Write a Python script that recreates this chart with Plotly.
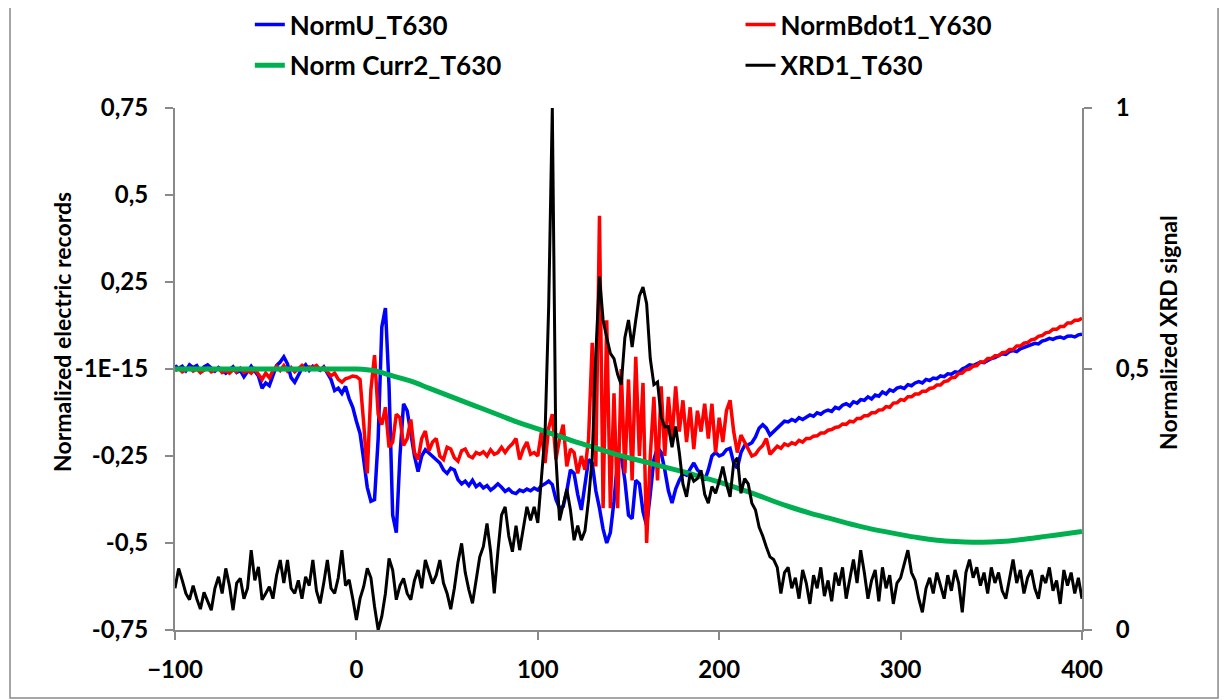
import plotly.graph_objects as go

# time axis (sample positions, step 2)
t = list(range(-100, 401, 2))

norm_u = [
    0.010, 0.002, 0.008, -0.005, 0.012, 0.004, 0.010, -0.008, 0.006, 0.012,
    0.003, -0.006, 0.004, -0.004, -0.012, -0.002, 0.006, -0.010, -0.004, -0.022,
    -0.008, 0.008, -0.006, -0.020, -0.055, -0.040, -0.048, -0.020, 0.010, 0.020,
    0.035, 0.015, -0.025, -0.038, -0.015, 0.002, 0.012, -0.004, 0.008, 0.002,
    -0.004, 0.006, -0.010, -0.030, -0.062, -0.055, -0.070, -0.050, -0.085, -0.110,
    -0.150, -0.185, -0.260, -0.340, -0.380, -0.375, -0.200, 0.120, 0.175, -0.050,
    -0.420, -0.470, -0.250, -0.100, -0.120, -0.180, -0.250, -0.295, -0.250, -0.232,
    -0.242, -0.250, -0.262, -0.270, -0.290, -0.300, -0.285, -0.290, -0.318, -0.330,
    -0.322, -0.335, -0.320, -0.338, -0.330, -0.342, -0.335, -0.348, -0.340, -0.330,
    -0.340, -0.352, -0.345, -0.355, -0.358, -0.348, -0.352, -0.345, -0.350, -0.342,
    -0.348, -0.335, -0.330, -0.322, -0.332, -0.375, -0.400, -0.395, -0.350, -0.290,
    -0.300, -0.360, -0.405, -0.330, -0.260, -0.270, -0.350, -0.400, -0.460, -0.500,
    -0.470, -0.380, -0.260, -0.250, -0.320, -0.420, -0.430, -0.320, -0.330, -0.410,
    -0.450, -0.360, -0.260, -0.225, -0.240, -0.290, -0.350, -0.385, -0.345, -0.320,
    -0.300, -0.305, -0.285, -0.270, -0.290, -0.300, -0.320, -0.290, -0.250, -0.240,
    -0.250, -0.245, -0.232, -0.228, -0.270, -0.285, -0.240, -0.220, -0.218, -0.212,
    -0.195, -0.170, -0.160, -0.170, -0.190, -0.180, -0.168, -0.160, -0.150, -0.152,
    -0.145, -0.150, -0.140, -0.145, -0.138, -0.132, -0.136, -0.126, -0.130, -0.122,
    -0.118, -0.122, -0.110, -0.114, -0.104, -0.100, -0.106, -0.094, -0.098, -0.088,
    -0.090, -0.080, -0.086, -0.075, -0.078, -0.066, -0.072, -0.060, -0.064, -0.055,
    -0.052, -0.056, -0.045, -0.048, -0.040, -0.036, -0.040, -0.030, -0.033, -0.026,
    -0.028, -0.020, -0.022, -0.014, -0.015, -0.008, -0.010, 0.000, 0.005, 0.012,
    0.010, 0.016, 0.020, 0.018, 0.025, 0.030, 0.033, 0.040, 0.044, 0.042,
    0.050, 0.053, 0.050, 0.058, 0.062, 0.065, 0.070, 0.074, 0.072, 0.080,
    0.083, 0.088, 0.085, 0.090, 0.092, 0.088, 0.094, 0.095, 0.092, 0.098,
    0.100,
]

norm_bdot = [
    -0.005, 0.002, -0.008, -0.002, 0.004, -0.006, 0.000, -0.010, -0.003, 0.003,
    -0.008, -0.002, 0.002, -0.010, -0.004, -0.012, -0.002, -0.008, 0.002, -0.010,
    -0.004, -0.012, 0.000, -0.015, -0.030, -0.012, -0.025, -0.005, 0.008, -0.004,
    0.010, -0.006, 0.004, -0.008, 0.002, 0.010, -0.002, 0.006, 0.004, 0.010,
    -0.002, 0.004, -0.008, -0.020, -0.012, -0.030, -0.038, -0.028, -0.025, -0.020,
    -0.022, -0.030, -0.155, -0.300, -0.060, 0.040, -0.130, -0.160, -0.110, -0.225,
    -0.210, -0.130, -0.140, -0.220, -0.200, -0.145, -0.240, -0.260, -0.200, -0.178,
    -0.235, -0.210, -0.200, -0.250, -0.260, -0.225, -0.230, -0.255, -0.265, -0.235,
    -0.230, -0.250, -0.255, -0.240, -0.245, -0.238, -0.250, -0.232, -0.245, -0.240,
    -0.225, -0.240, -0.225, -0.215, -0.200, -0.260, -0.230, -0.210, -0.245, -0.240,
    -0.250, -0.180, -0.270, -0.170, -0.130, -0.260, -0.200, -0.160, -0.280, -0.230,
    -0.240, -0.300, -0.250, -0.290, -0.200, 0.075, -0.280, 0.440, -0.400, 0.140,
    -0.400, -0.070, -0.400, 0.000, -0.300, -0.030, -0.320, 0.035, -0.250, -0.040,
    -0.500, -0.250, -0.080, -0.320, -0.050, -0.250, -0.080, -0.200, -0.050, -0.180,
    -0.090, -0.210, -0.110, -0.230, -0.120, -0.180, -0.100, -0.200, -0.100, -0.240,
    -0.140, -0.210, -0.120, -0.090, -0.180, -0.240, -0.190, -0.210, -0.230, -0.250,
    -0.245, -0.230, -0.220, -0.200, -0.245, -0.235, -0.222, -0.228, -0.215, -0.220,
    -0.212, -0.216, -0.205, -0.210, -0.200, -0.200, -0.193, -0.192, -0.184, -0.184,
    -0.176, -0.174, -0.168, -0.166, -0.158, -0.159, -0.150, -0.152, -0.142, -0.142,
    -0.134, -0.134, -0.126, -0.126, -0.118, -0.117, -0.108, -0.110, -0.098, -0.097,
    -0.088, -0.090, -0.080, -0.080, -0.072, -0.072, -0.064, -0.064, -0.056, -0.054,
    -0.046, -0.046, -0.036, -0.034, -0.025, -0.024, -0.013, -0.012, -0.002, 0.000,
    0.008, 0.010, 0.020, 0.020, 0.030, 0.030, 0.038, 0.038, 0.047, 0.048,
    0.056, 0.056, 0.066, 0.066, 0.074, 0.076, 0.084, 0.086, 0.094, 0.096,
    0.104, 0.106, 0.114, 0.114, 0.122, 0.122, 0.132, 0.132, 0.140, 0.140,
    0.146,
]

xrd = [
    0.080, 0.118, 0.095, 0.070, 0.058, 0.085, 0.060, 0.040, 0.072, 0.055,
    0.038, 0.080, 0.102, 0.070, 0.118, 0.085, 0.038, 0.090, 0.099, 0.060,
    0.080, 0.153, 0.095, 0.121, 0.058, 0.070, 0.083, 0.060, 0.105, 0.134,
    0.090, 0.134, 0.080, 0.070, 0.095, 0.060, 0.102, 0.085, 0.134, 0.075,
    0.051, 0.090, 0.134, 0.080, 0.070, 0.100, 0.153, 0.085, 0.096, 0.060,
    0.019, 0.060, 0.083, 0.118, 0.100, 0.045, 0.000, 0.026, 0.070, 0.137,
    0.115, 0.058, 0.085, 0.099, 0.070, 0.058, 0.095, 0.115, 0.080, 0.134,
    0.110, 0.089, 0.105, 0.134, 0.090, 0.070, 0.040, 0.080, 0.130, 0.166,
    0.110, 0.077, 0.051, 0.100, 0.140, 0.160, 0.204, 0.150, 0.070, 0.150,
    0.220, 0.236, 0.180, 0.150, 0.200, 0.153, 0.198, 0.236, 0.210, 0.236,
    0.205, 0.293, 0.377, 0.620, 1.000, 0.330, 0.210, 0.240, 0.270, 0.230,
    0.172, 0.200, 0.172, 0.190, 0.250, 0.330, 0.530, 0.677, 0.594, 0.560,
    0.530, 0.520, 0.490, 0.470, 0.560, 0.594, 0.542, 0.594, 0.640, 0.657,
    0.625, 0.520, 0.470, 0.475, 0.408, 0.389, 0.390, 0.350, 0.390, 0.340,
    0.280, 0.255, 0.300, 0.285, 0.290, 0.306, 0.260, 0.243, 0.275, 0.262,
    0.285, 0.313, 0.280, 0.255, 0.320, 0.330, 0.262, 0.290, 0.280, 0.243,
    0.230, 0.197, 0.180, 0.159, 0.140, 0.135, 0.120, 0.070, 0.110, 0.120,
    0.080, 0.100, 0.060, 0.115, 0.090, 0.050, 0.105, 0.080, 0.120, 0.065,
    0.095, 0.055, 0.110, 0.085, 0.120, 0.060, 0.100, 0.135, 0.090, 0.153,
    0.110, 0.060, 0.095, 0.115, 0.055, 0.120, 0.080, 0.105, 0.050, 0.090,
    0.100, 0.125, 0.153, 0.110, 0.095, 0.060, 0.034, 0.080, 0.100, 0.070,
    0.110, 0.085, 0.060, 0.105, 0.075, 0.115, 0.090, 0.034, 0.110, 0.135,
    0.100, 0.120, 0.085, 0.110, 0.070, 0.120, 0.090, 0.110, 0.075, 0.060,
    0.100, 0.135, 0.090, 0.115, 0.070, 0.100, 0.115, 0.080, 0.060, 0.105,
    0.090, 0.120, 0.075, 0.095, 0.050, 0.115, 0.085, 0.110, 0.070, 0.100,
    0.060,
]

# smooth current curve, sampled every 10
t_curr = list(range(-100, 401, 10))
norm_curr = [
    0.000, 0.000, 0.000, 0.000, 0.000, 0.000, 0.000, 0.000, 0.000, 0.000,
    0.000, -0.005, -0.020, -0.035, -0.055, -0.075, -0.095, -0.115, -0.135, -0.155,
    -0.172, -0.190, -0.208, -0.224, -0.240, -0.255, -0.268, -0.282, -0.295, -0.310,
    -0.325, -0.342, -0.360, -0.380, -0.398, -0.414, -0.428, -0.442, -0.455, -0.466,
    -0.476, -0.485, -0.492, -0.496, -0.498, -0.497, -0.494, -0.488, -0.481, -0.474,
    -0.467,
]

left_ticks = [0.75, 0.5, 0.25, 0.0, -0.25, -0.5, -0.75]
left_labels = ["0,75", "0,5", "0,25", "-1E-15", "-0,25", "-0,5", "-0,75"]
right_ticks = [0, 0.5, 1]
right_labels = ["0", "0,5", "1"]
x_ticks = [-100, 0, 100, 200, 300, 400]
left_title = "Normalized electric records"
right_title = "Normalized XRD signal"

FONT = "Lato"
AX = "#898989"

fig = go.Figure()
fig.add_trace(go.Scatter(x=t, y=norm_u, name="NormU_T630", mode="lines",
                         line=dict(color="#0000FF", width=3.5), legend="legend",
                         legendgroup="a"))
fig.add_trace(go.Scatter(x=t, y=norm_bdot, name="NormBdot1_Y630", mode="lines",
                         line=dict(color="#FF0000", width=3.5), legend="legend2",
                         legendgroup="b"))
fig.add_trace(go.Scatter(x=t_curr, y=norm_curr, name="Norm Curr2_T630", mode="lines",
                         line=dict(color="#00B050", width=5, shape="spline"),
                         legend="legend", legendgroup="c"))
fig.add_trace(go.Scatter(x=t, y=xrd, name="XRD1_T630", mode="lines",
                         line=dict(color="#000000", width=3), yaxis="y2",
                         legend="legend2", legendgroup="d"))

legend_common = dict(orientation="v", yanchor="top", xanchor="left",
                     font=dict(family=FONT, size=26, color="#000", weight="bold"),
                     bgcolor="rgba(0,0,0,0)", tracegroupgap=4, itemwidth=30)

TICKFONT = dict(family=FONT, size=24, weight="bold", color="#000")
TITLEFONT = dict(family=FONT, size=23, weight="bold", color="#000")

fig.update_layout(
    width=1219, height=692,
    margin=dict(l=167, r=145, t=100, b=70, autoexpand=False),
    paper_bgcolor="white", plot_bgcolor="white",
    font=dict(family=FONT, color="#000"),
    showlegend=True,
    legend=dict(x=0.0825, y=1.205, **legend_common),
    legend2=dict(x=0.6235, y=1.205, **legend_common),
    xaxis=dict(range=[-100, 400], tickvals=x_ticks, showgrid=False, zeroline=False,
               showline=True, linecolor=AX, linewidth=2, ticks="outside",
               ticklen=8, tickcolor=AX, tickwidth=2, ticklabelstandoff=9,
               tickfont=TICKFONT),
    yaxis=dict(range=[-0.75, 0.75], tickvals=left_ticks, ticktext=left_labels,
               showgrid=False, zeroline=False, showline=True, linecolor=AX,
               linewidth=2, ticks="outside", ticklen=8, tickcolor=AX, tickwidth=2,
               ticklabelstandoff=12, tickfont=TICKFONT),
    yaxis2=dict(range=[0, 1], tickvals=right_ticks, ticktext=right_labels,
                overlaying="y", side="right", showgrid=False, zeroline=False,
                showline=True, linecolor=AX, linewidth=2, ticks="outside",
                ticklen=8, tickcolor=AX, tickwidth=2, ticklabelstandoff=19,
                tickfont=TICKFONT),
    annotations=[
        dict(text=left_title, xref="paper", yref="paper", x=-0.1246, y=0.571,
             xanchor="center", yanchor="middle", textangle=-90, showarrow=False,
             font=TITLEFONT),
        dict(text=right_title, xref="paper", yref="paper", x=1.0948, y=0.571,
             xanchor="center", yanchor="middle", textangle=-90, showarrow=False,
             font=TITLEFONT),
    ],
    shapes=[dict(type="rect", xref="paper", yref="paper",
                 x0=-0.1819, x1=1.150, y0=-0.1303, y1=1.2011,
                 line=dict(color=AX, width=1.5), fillcolor="rgba(0,0,0,0)",
                 layer="below")],
)

fig.write_html("out.html")
